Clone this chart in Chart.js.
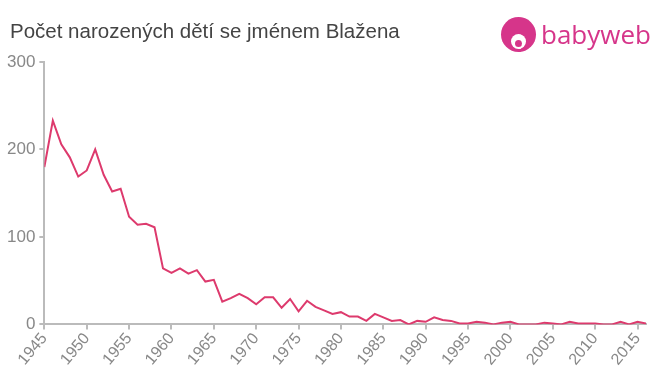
<!DOCTYPE html>
<html>
<head>
<meta charset="utf-8">
<script src="https://cdn.jsdelivr.net/npm/chart.js@4/dist/chart.umd.min.js"></script>
<style>
  html, body { margin: 0; padding: 0; background: #fff; }
  #wrap { position: relative; width: 660px; height: 375px; overflow: hidden; }
  #chart { position: absolute; left: 0; top: 0; }
  .title { position: absolute; left: 10px; top: 19px; font: 20.5px "Liberation Sans", Arial, sans-serif; color: #444; }
  .logo { position: absolute; left: 501px; top: 15px; display: flex; align-items: center; }
  .logo-icon { width: 35px; height: 35px; border-radius: 50%; background: #d6358a; position: relative; }
  .logo-icon .face { position: absolute; left: 10px; top: 17px; width: 15px; height: 15px; border-radius: 50%; background: #fff; }
  .logo-icon .dot { position: absolute; left: 14px; top: 23px; width: 7px; height: 7px; border-radius: 50%; background: #d6358a; }
  .logo-text { margin-left: 5px; font: 26px "Open Sans", "DejaVu Sans", sans-serif; color: #d6358a; line-height: 38px; }
</style>
</head>
<body>
<div id="wrap">
  <canvas id="chart" width="660" height="375"></canvas>
  <div class="title">Počet narozených dětí se jménem Blažena</div>
  <div class="logo">
    <div class="logo-icon"><div class="face"></div><div class="dot"></div></div>
    <div class="logo-text">babyweb</div>
  </div>
</div>
<script>
const roky = [];
for (let r = 1945; r <= 2016; r++) roky.push(r);

const pocty = [
    180, 233, 206, 191, 169, 176, 200, 171, 152, 155,
    123, 114, 115, 111, 64, 59, 64, 58, 62, 49,
    51, 26, 30, 35, 30, 23, 31, 31, 19, 29,
    15, 27, 20, 16, 12, 14, 9, 9, 4, 12,
    8, 4, 5, 0, 4, 3, 8, 5, 4, 1,
    1, 3, 2, 0, 2, 3, 0, 0, 0, 2,
    1, 0, 3, 1, 1, 1, 0, 0, 3, 0,
    3, 1
];

const yTicks = [0, 100, 200, 300];

const seda = '#bbbbbb';
const textSeda = '#888888';

const body = roky.map((r, i) => ({ x: r, y: pocty[i] }));

new Chart(document.getElementById('chart').getContext('2d'), {
    type: 'line',
    data: {
        datasets: [{
            data: body,
            borderColor: '#dd3a6d',
            borderWidth: 2,
            pointRadius: 0,
            tension: 0,
            fill: false
        }]
    },
    options: {
        responsive: false,
        animation: false,
        layout: { padding: { top: 62, right: 14, left: 3, bottom: 6 } },
        plugins: { legend: { display: false }, tooltip: { enabled: false } },
        scales: {
            x: {
                type: 'linear',
                min: 1945,
                max: 2016,
                afterBuildTicks: s => { s.ticks = roky.filter(r => r % 5 === 0).map(v => ({ value: v })); },
                grid: { drawOnChartArea: false, color: seda, tickLength: 5, lineWidth: 2 },
                border: { color: seda, width: 2 },
                ticks: {
                    color: textSeda,
                    font: { family: 'Liberation Sans, Arial', size: 16 },
                    minRotation: 50,
                    maxRotation: 50,
                    padding: 0,
                    callback: v => String(v)
                }
            },
            y: {
                min: 0,
                max: 300,
                afterBuildTicks: s => { s.ticks = yTicks.map(v => ({ value: v })); },
                grid: { drawOnChartArea: false, color: seda, tickLength: 5, lineWidth: 2 },
                border: { color: seda, width: 2 },
                ticks: {
                    color: textSeda,
                    font: { family: 'Liberation Sans, Arial', size: 17 },
                    padding: 4
                }
            }
        }
    }
});
</script>
</body>
</html>
